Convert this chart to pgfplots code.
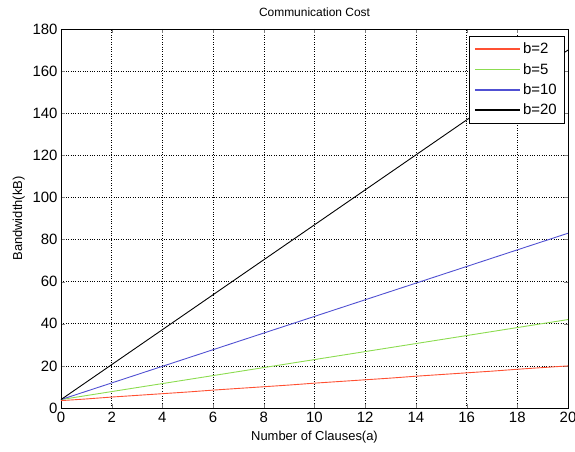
\documentclass[border=0pt]{standalone}
\usepackage{pgfplots}
\pgfplotsset{compat=1.18}
\usepackage{fontspec}
\setmainfont{Liberation Sans}
\definecolor{cred}{RGB}{255,80,50}
\definecolor{cgreen}{RGB}{140,220,80}
\definecolor{cblue}{RGB}{80,80,210}
\begin{document}
\begin{tikzpicture}
\useasboundingbox (-61bp,-44bp) rectangle (514bp,408bp);
\begin{axis}[
  at={(0,0)}, anchor=origin,
  scale only axis, width=507bp, height=379bp,
  xmin=0, xmax=20, ymin=0, ymax=180,
  xtick={0,2,...,20}, ytick={0,20,...,180},
  tick align=inside, tick pos=both,
  major tick length=4bp,
  grid=major, grid style={black, dotted, line width=0.6pt},
  axis line style={black, line width=0.6pt},
  /pgf/number format/assume math mode=true,
  ticklabel style={font=\fontsize{15}{17}\selectfont},
  xticklabel style={yshift=-1bp},
  label style={font=\fontsize{13}{15}\selectfont},
  title style={font=\fontsize{12}{14}\selectfont, yshift=3bp},
  title={Communication Cost},
  xlabel={Number of Clauses(a)},
  ylabel={Bandwidth(kB)},
  xlabel style={yshift=-1bp},
  ylabel style={yshift=1bp},
  legend style={at={(0.992,0.982)}, anchor=north east, draw=black,
    font=\fontsize{15}{17}\selectfont, row sep=4pt, inner xsep=5pt, inner ysep=5pt},
  legend cell align=left,
  legend image post style={line width=1.9pt},
  legend image code/.code={\draw[mark repeat=2,mark phase=2,#1] plot coordinates {(0cm,0cm) (0.8cm,0cm) (1.6cm,0cm)};},
  every axis plot/.append style={line width=0.9pt},
]
\addplot[color=cred] coordinates {(0,3.5)(1,4.3)(2,5.2)(3,6.0)(4,6.8)(5,7.6)(6,8.5)(7,9.3)(8,10.1)(9,10.9)(10,11.8)(11,12.6)(12,13.4)(13,14.2)(14,15.1)(15,15.9)(16,16.7)(17,17.5)(18,18.4)(19,19.2)(20,20.0)};
\addlegendentry{b=2}
\addplot[color=cgreen] coordinates {(0,4)(1,5.9)(2,7.8)(3,9.7)(4,11.6)(5,13.5)(6,15.4)(7,17.3)(8,19.2)(9,21.1)(10,23)(11,24.9)(12,26.8)(13,28.7)(14,30.6)(15,32.5)(16,34.4)(17,36.3)(18,38.2)(19,40.1)(20,42)};
\addlegendentry{b=5}
\addplot[color=cblue] coordinates {(0,4)(1,7.95)(2,11.9)(3,15.85)(4,19.8)(5,23.75)(6,27.7)(7,31.65)(8,35.6)(9,39.55)(10,43.5)(11,47.45)(12,51.4)(13,55.35)(14,59.3)(15,63.25)(16,67.2)(17,71.15)(18,75.1)(19,79.05)(20,83)};
\addlegendentry{b=10}
\addplot[color=black] coordinates {(0,4)(1,12.3)(2,20.6)(3,28.9)(4,37.2)(5,45.5)(6,53.8)(7,62.1)(8,70.4)(9,78.7)(10,87)(11,95.3)(12,103.6)(13,111.9)(14,120.2)(15,128.5)(16,136.8)(17,145.1)(18,153.4)(19,161.7)(20,170)};
\addlegendentry{b=20}
\end{axis}
\end{tikzpicture}
\end{document}
